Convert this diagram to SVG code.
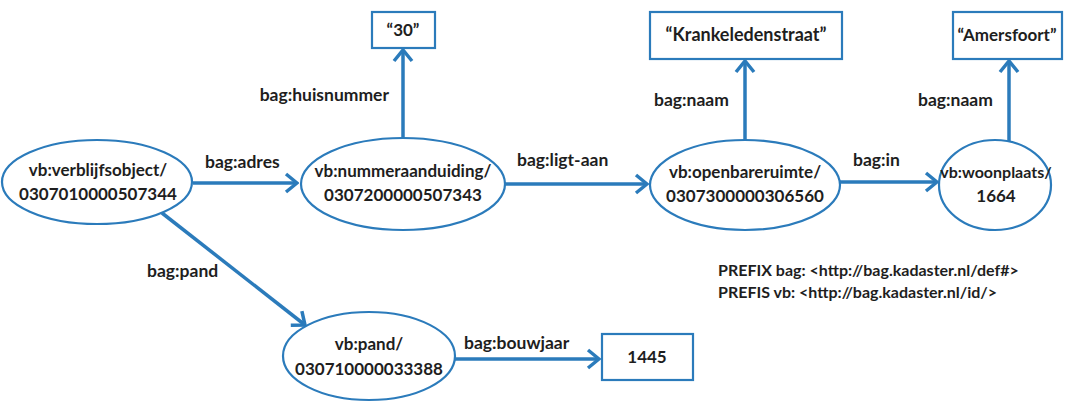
<svg xmlns="http://www.w3.org/2000/svg" width="1073" height="407" viewBox="0 0 1073 407">
  <style>
    .node { fill: #ffffff; stroke: #2b7bbb; stroke-width: 2.2; }
    .lit { fill: #ffffff; stroke: #2b7bbb; stroke-width: 2.2; }
    .edge { fill: none; stroke: #2b7bbb; stroke-width: 3.5; }
    text { font-family: Lato, "Open Sans", "Liberation Sans", sans-serif; font-weight: bold; fill: #1e1e1e; }
    .nt { font-size: 17px; text-anchor: middle; }
    .et { font-size: 17.5px; }
    .pre { font-size: 16px; }
  </style>
  <defs>
    <marker id="arrow" markerUnits="userSpaceOnUse" viewBox="-14 -11 16 22" refX="0" refY="0" markerWidth="16" markerHeight="22" orient="auto">
      <path d="M-11,-9 L0,0 L-11,9" fill="none" stroke="#2b7bbb" stroke-width="3.5" stroke-linecap="butt"/>
    </marker>
  </defs>
  <rect width="1073" height="407" fill="#ffffff"/>

  <!-- connectors -->
  <g id="connectors">
    <line class="edge" x1="193" y1="183" x2="297" y2="183" marker-end="url(#arrow)"/>
    <line class="edge" x1="403" y1="138" x2="403" y2="50" marker-end="url(#arrow)"/>
    <line class="edge" x1="505" y1="184" x2="647" y2="184" marker-end="url(#arrow)"/>
    <line class="edge" x1="745" y1="140" x2="745" y2="61" marker-end="url(#arrow)"/>
    <line class="edge" x1="840" y1="182" x2="937" y2="182" marker-end="url(#arrow)"/>
    <line class="edge" x1="1009" y1="141" x2="1009" y2="61" marker-end="url(#arrow)"/>
    <line class="edge" x1="162" y1="213" x2="305" y2="325" marker-end="url(#arrow)"/>
    <line class="edge" x1="455" y1="359" x2="599" y2="359" marker-end="url(#arrow)"/>
    <text class="et" x="205" y="168">bag:adres</text>
    <text class="et" x="389" y="101" text-anchor="end">bag:huisnummer</text>
    <text class="et" x="517" y="166">bag:ligt-aan</text>
    <text class="et" x="654" y="106">bag:naam</text>
    <text class="et" x="853" y="166">bag:in</text>
    <text class="et" x="918" y="106">bag:naam</text>
    <text class="et" x="147" y="277">bag:pand</text>
    <text class="et" x="464" y="349">bag:bouwjaar</text>
  </g>

  <g id="verblijfsobject">
    <ellipse class="node" cx="97" cy="182" rx="95" ry="42"/>
    <text class="nt" x="98" y="176">vb:verblijfsobject/</text>
    <text class="nt" x="98" y="200">0307010000507344</text>
  </g>

  <g id="nummeraanduiding">
    <ellipse class="node" cx="403" cy="184" rx="102" ry="46"/>
    <text class="nt" x="403" y="177">vb:nummeraanduiding/</text>
    <text class="nt" x="403" y="201">0307200000507343</text>
  </g>

  <g id="huisnummer">
    <rect class="lit" x="372" y="12" width="63" height="36"/>
    <text class="nt" x="403" y="36">“30”</text>
  </g>

  <g id="openbareruimte">
    <ellipse class="node" cx="745" cy="185" rx="95" ry="45"/>
    <text class="nt" x="745" y="178">vb:openbareruimte/</text>
    <text class="nt" x="745" y="202">0307300000306560</text>
  </g>

  <g id="straatnaam">
    <rect class="lit" x="650" y="12" width="192" height="47"/>
    <text class="nt" x="746" y="41" style="font-size:18px">“Krankeledenstraat”</text>
  </g>

  <g id="woonplaats">
    <ellipse class="node" cx="995" cy="185" rx="56" ry="45"/>
    <text class="nt" x="996" y="178" style="font-size:16px">vb:woonplaats/</text>
    <text class="nt" x="996" y="202">1664</text>
  </g>

  <g id="plaatsnaam">
    <rect class="lit" x="953" y="12" width="109" height="47"/>
    <text class="nt" x="1007" y="41">“Amersfoort”</text>
  </g>

  <g id="pand">
    <ellipse class="node" cx="369" cy="356" rx="86" ry="44"/>
    <text class="nt" x="369" y="350">vb:pand/</text>
    <text class="nt" x="369" y="375">030710000033388</text>
  </g>

  <g id="bouwjaar">
    <rect class="lit" x="602" y="334" width="91" height="46"/>
    <text class="nt" x="647" y="363">1445</text>
  </g>

  <g id="prefixes">
    <text class="pre" x="718" y="276">PREFIX bag: &lt;http://bag.kadaster.nl/def#&gt;</text>
    <text class="pre" x="718" y="298">PREFIS vb: &lt;http://bag.kadaster.nl/id/&gt;</text>
  </g>
</svg>
